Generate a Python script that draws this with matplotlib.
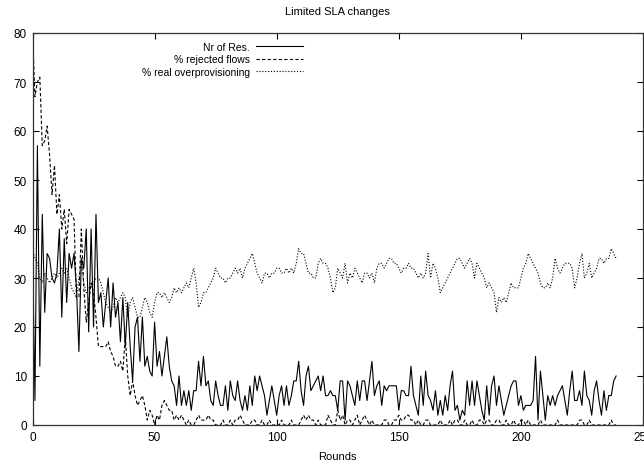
import matplotlib
matplotlib.use("Agg")
import matplotlib.pyplot as plt
import numpy as np

# ------------------------------------------------------------------
# data (one value per round, rounds 0..239)
# ------------------------------------------------------------------
nr_of_res = [
    36, 5, 57, 12, 43, 23, 35, 34, 30, 29,
    31, 40, 22, 38, 25, 35, 32, 35, 28, 15,
    34, 32, 40, 19, 40, 20, 43, 25, 27, 20,
    25, 30, 20, 29, 22, 25, 17, 26, 16, 25,
    16, 9, 20, 22, 13, 22, 12, 14, 11, 10,
    21, 12, 15, 10, 14, 18, 12, 9, 8, 4,
    10, 4, 7, 4, 7, 3, 7, 7, 13, 8,
    14, 8, 9, 5, 4, 9, 6, 4, 4, 8,
    3, 9, 6, 5, 9, 5, 3, 6, 3, 8,
    4, 10, 7, 10, 8, 6, 2, 5, 8, 5,
    2, 6, 8, 4, 8, 4, 6, 9, 9, 13,
    7, 4, 10, 12, 7, 8, 9, 10, 7, 10,
    6, 6, 7, 6, 6, 3, 9, 9, 1, 9,
    8, 6, 4, 9, 5, 9, 9, 5, 9, 13,
    6, 8, 9, 4, 8, 7, 8, 8, 8, 8,
    3, 7, 7, 6, 6, 12, 6, 4, 2, 10,
    4, 11, 6, 5, 3, 7, 2, 5, 2, 6,
    3, 8, 11, 3, 4, 1, 3, 2, 9, 4,
    9, 4, 9, 6, 3, 1, 8, 2, 8, 10,
    4, 8, 5, 2, 4, 6, 8, 9, 9, 4,
    6, 3, 4, 4, 4, 5, 14, 1, 11, 6,
    1, 6, 4, 6, 4, 6, 7, 8, 5, 2,
    7, 11, 5, 5, 7, 4, 11, 6, 5, 2,
    7, 9, 5, 2, 7, 3, 6, 6, 9, 10,
]

rejected_flows = [
    80, 67, 70, 71, 57, 58, 61, 55, 47, 53,
    43, 47, 40, 44, 37, 44, 43, 42, 26, 26,
    40, 28, 21, 25, 29, 27, 22, 16, 16, 16,
    16, 17, 15, 14, 12, 12, 13, 11, 18, 10,
    6, 9, 6, 4, 5, 6, 4, 1, 3, 2,
    0, 2, 1, 4, 5, 4, 3, 3, 1, 2,
    1, 2, 1, 0, 1, 0, 0, 1, 2, 1,
    1, 1, 2, 1, 1, 0, 0, 0, 1, 0,
    0, 1, 0, 1, 1, 2, 1, 0, 0, 0,
    1, 1, 0, 0, 1, 0, 0, 1, 0, 0,
    0, 0, 1, 0, 0, 0, 1, 0, 0, 0,
    1, 2, 1, 2, 1, 1, 0, 1, 0, 0,
    0, 2, 1, 0, 0, 3, 1, 2, 0, 1,
    1, 0, 1, 2, 0, 1, 2, 1, 0, 1,
    0, 0, 0, 0, 1, 1, 0, 0, 1, 1,
    2, 1, 1, 2, 2, 1, 1, 0, 1, 0,
    0, 1, 1, 0, 0, 0, 0, 1, 0, 0,
    0, 1, 0, 1, 1, 0, 0, 1, 0, 0,
    1, 0, 0, 1, 1, 0, 1, 1, 0, 0,
    1, 1, 0, 0, 1, 0, 0, 1, 0, 0,
    1, 1, 0, 1, 0, 0, 0, 0, 1, 0,
    0, 0, 0, 0, 0, 1, 0, 0, 0, 0,
    0, 0, 0, 0, 1, 1, 0, 0, 1, 0,
    0, 0, 0, 0, 0, 0, 0, 1, 0, 0,
]

real_overprov = [
    36, 34, 33, 30, 29, 31, 30, 29, 30, 31,
    30, 31, 32, 31, 32, 30, 28, 27, 26, 30,
    33, 29, 27, 28, 28, 29, 30, 30, 29, 27,
    25, 24, 23, 24, 26, 25, 26, 27, 26, 22,
    25, 26, 24, 22, 22, 24, 26, 25, 23, 22,
    25, 27, 27, 26, 27, 26, 25, 26, 28, 27,
    28, 27, 28, 29, 28, 30, 32, 29, 24, 25,
    27, 27, 28, 29, 30, 32, 31, 30, 30, 29,
    30, 30, 31, 32, 31, 32, 30, 32, 33, 34,
    35, 33, 31, 30, 29, 31, 31, 30, 31, 31,
    32, 32, 31, 31, 32, 31, 32, 31, 33, 36,
    35, 35, 33, 31, 31, 30, 30, 33, 34, 33,
    33, 32, 30, 27, 28, 32, 31, 30, 33, 29,
    31, 30, 32, 31, 30, 29, 31, 31, 30, 31,
    29, 32, 33, 33, 32, 33, 34, 34, 33, 33,
    32, 31, 32, 32, 33, 32, 32, 31, 30, 31,
    30, 31, 35, 30, 33, 32, 30, 27, 28, 29,
    30, 31, 32, 33, 34, 34, 33, 32, 33, 34,
    33, 30, 33, 32, 31, 30, 28, 29, 28, 27,
    23, 26, 25, 26, 25, 27, 29, 28, 28, 28,
    30, 32, 33, 35, 34, 33, 32, 31, 29, 28,
    28, 29, 28, 30, 34, 32, 31, 32, 33, 33,
    33, 32, 28, 30, 33, 35, 30, 31, 33, 30,
    31, 32, 34, 34, 33, 34, 34, 36, 35, 34,
]

rounds = np.arange(len(nr_of_res))

plt.rcParams['font.family'] = ['Liberation Sans', 'DejaVu Sans']

fig = plt.figure(figsize=(6.44, 4.64), dpi=100)
ax = fig.add_axes([32.5 / 644, 38 / 464, 610.5 / 644, 392 / 464])

ax.plot(rounds, nr_of_res, color='black', lw=0.8, label='Nr of Res.')
ax.plot(rounds, rejected_flows, color='black', lw=0.8, dashes=(3.0, 2.0),
        label='% rejected flows')
ax.plot(rounds, real_overprov, color='black', lw=0.8, dashes=(1.0, 1.6),
        label='% real overprovisioning')

ax.set_xlim(0, 250)
ax.set_ylim(0, 80)
ax.set_xticks(np.arange(0, 251, 50))
ax.set_yticks(np.arange(0, 81, 10))
ax.tick_params(direction='in', length=4, width=0.8, top=True, right=True,
               labelsize=8.5, pad=4, colors='black')
for s in ax.spines.values():
    s.set_linewidth(0.9)
    s.set_color('#333333')

ax.set_xlabel('Rounds', fontsize=8, labelpad=6)
ax.set_title('Limited SLA changes', fontsize=8, pad=14)

# gnuplot style key: text right aligned, sample after it
leg = ax.legend(loc='upper right', bbox_to_anchor=(0.447, 0.982),
                frameon=False, markerfirst=False, fontsize=7.5,
                handlelength=4.5, handletextpad=0.65, labelspacing=0.22,
                borderaxespad=0, borderpad=0.2)

fig.savefig('out.png', dpi=100)
